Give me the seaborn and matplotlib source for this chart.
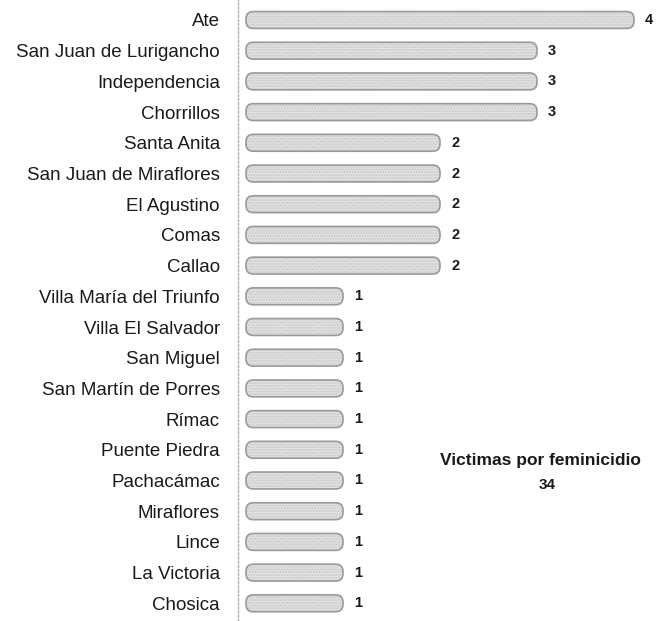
import matplotlib
matplotlib.use("Agg")
import matplotlib.pyplot as plt
from matplotlib.patches import FancyBboxPatch
import seaborn as sns
import pandas as pd

distritos = ["Ate", "San Juan de Lurigancho", "Independencia", "Chorrillos",
             "Santa Anita", "San Juan de Miraflores", "El Agustino", "Comas",
             "Callao", "Villa María del Triunfo", "Villa El Salvador",
             "San Miguel", "San Martín de Porres", "Rímac", "Puente Piedra",
             "Pachacámac", "Miraflores", "Lince", "La Victoria", "Chosica"]
victimas = [4, 3, 3, 3, 2, 2, 2, 2, 2, 1, 1, 1, 1, 1, 1, 1, 1, 1, 1, 1]
titulo_total = "Victimas por feminicidio"

df = pd.DataFrame({"distrito": distritos, "victimas": victimas})

sns.set_theme(style="white")
plt.rcParams["font.family"] = ["Liberation Sans", "DejaVu Sans"]

W, H = 657, 621
fig = plt.figure(figsize=(W / 100, H / 100), dpi=100)
ax = fig.add_axes([238 / W, 0, 1 - 238 / W, 1])

sns.barplot(data=df, y="distrito", x="victimas", orient="h", ax=ax,
            color="#dcdcdc", edgecolor="#a0a0a0", linewidth=1.0,
            width=0.55, saturation=1)

x0, unit = 246, 97.0
ax.set_xlim(-(x0 - 238) / unit, (W - x0) / unit)
y0, step = 20, 30.7
ax.set_ylim((H - y0) / step, -y0 / step)

# rounded capsule look for bars (geometry taken from seaborn's patches)
aspect = unit / step
style = "round,pad=0,rounding_size=0.075"
for p in list(ax.patches):
    x, y = p.get_x(), p.get_y()
    w, h = p.get_width(), p.get_height()
    p.set_visible(False)
    ax.add_patch(FancyBboxPatch((x, y), w, h, boxstyle=style,
                                mutation_aspect=aspect,
                                facecolor="#e3e3e3", edgecolor="#c6c6c6",
                                linewidth=0, hatch="......"))
    ax.add_patch(FancyBboxPatch((x, y), w, h, boxstyle=style,
                                mutation_aspect=aspect,
                                facecolor="none", edgecolor="#9a9a9a",
                                linewidth=1.2))

for i, v in enumerate(victimas):
    ax.text(v + 11 / unit, i, str(v), va="center", ha="left",
            fontsize=10.5, fontweight="bold", color="#1a1a1a")

ax.set_xlabel("")
ax.set_ylabel("")
ax.set_xticks([])
ax.tick_params(axis="y", length=0, labelsize=13.5, pad=13, colors="#1a1a1a")
ax.set_yticks(range(len(distritos)), distritos)
ax.set_yticks([i + 0.5 for i in range(-1, len(distritos))], minor=True)
ax.tick_params(axis="y", which="minor", length=4, direction="inout",
               color="#b0b0b0", width=0.8)
for s in ["top", "right", "bottom"]:
    ax.spines[s].set_visible(False)
ax.spines["left"].set_color("#b0b0b0")
ax.spines["left"].set_linestyle((0, (1.5, 1.5)))
ax.spines["left"].set_linewidth(1.0)

fig.text(540 / W, 1 - 461 / H, titulo_total, ha="center", va="center",
         fontsize=12.5, fontweight="bold", color="#1a1a1a")
fig.text(547 / W, 1 - 485 / H, str(sum(victimas)), ha="center", va="center",
         fontsize=11, fontweight="bold", color="#1a1a1a")

fig.savefig("out.png", dpi=100)
